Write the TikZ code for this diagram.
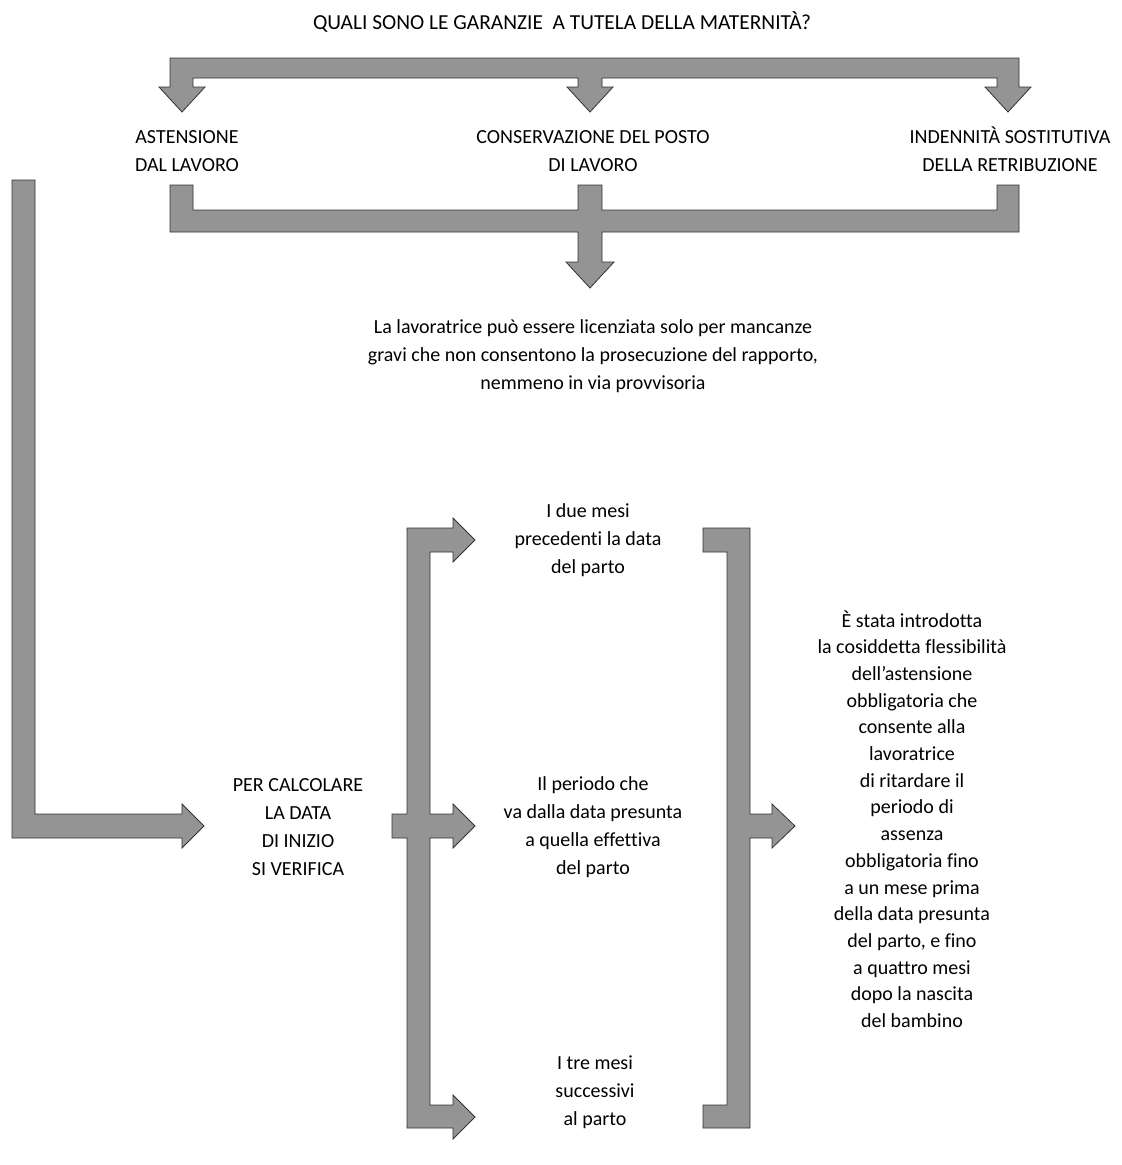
\documentclass[tikz,border=0pt]{standalone}
\usepackage{fontspec}
\setmainfont{Carlito}[Ligatures=NoCommon]
\begin{document}
\begin{tikzpicture}[x=1pt,y=-1pt,
  txt/.style={align=center,font=\fontsize{20}{28}\selectfont,inner sep=0pt},
  flx/.style={align=center,font=\fontsize{20}{26.7}\selectfont,inner sep=0pt},
  blk/.style={fill=black!42,draw=black!80,line width=0.8pt,line join=miter}]
\useasboundingbox[fill=white] (0,0) rectangle (1122,1165);

% texts
\node[txt,font=\fontsize{21.4}{28}\selectfont] (title) at (562,22) {QUALI SONO LE GARANZIE\ \ A TUTELA DELLA MATERNIT\`A?};
\node[txt] (ast) at (187,151) {ASTENSIONE\\DAL LAVORO};
\node[txt] (cons) at (593,151) {CONSERVAZIONE DEL POSTO\\DI LAVORO};
\node[txt] (ind) at (1010,149) {INDENNIT\`A SOSTITUTIVA\\DELLA RETRIBUZIONE};
\node[txt] (lic) at (593,356) {La lavoratrice pu\`o essere licenziata solo per mancanze\\gravi che non consentono la prosecuzione del rapporto,\\nemmeno in via provvisoria};
\node[txt] (calc) at (298,827) {PER CALCOLARE\\LA DATA\\DI INIZIO\\SI VERIFICA};
\node[txt] (due) at (588,540) {I due mesi\\precedenti la data\\del parto};
\node[txt] (per) at (593,827) {Il periodo che\\va dalla data presunta\\a quella effettiva\\del parto};
\node[txt] (tre) at (595,1092) {I tre mesi\\successivi\\al parto};
\node[flx] (flex) at (912,819) {\`E stata introdotta\\la cosiddetta flessibilit\`a\\dell’astensione\\obbligatoria che\\consente alla\\lavoratrice\\di ritardare il\\periodo di\\assenza\\obbligatoria fino\\a un mese prima\\della data presunta\\del parto, e fino\\a quattro mesi\\dopo la nascita\\del bambino};

% top distributor bar with three arrows
\draw[blk] (170,58) -- (1019,58) -- (1019,87) -- (1031,87) -- (1008,112) -- (985,87) -- (997,87) -- (997,78)
  -- (602,78) -- (602,87) -- (613,87) -- (590,112) -- (567,87) -- (578,87) -- (578,78)
  -- (193,78) -- (193,87) -- (205,87) -- (182,112) -- (159,87) -- (170,87) -- cycle;

% collector bar with arrow down
\draw[blk] (170,185) -- (193,185) -- (193,210) -- (578,210) -- (578,185) -- (602,185) -- (602,210)
  -- (997,210) -- (997,185) -- (1019,185) -- (1019,232) -- (602,232) -- (602,262) -- (614,262)
  -- (590,288) -- (566,262) -- (578,262) -- (578,232) -- (170,232) -- cycle;

% left L arrow
\draw[blk] (12,180) -- (35,180) -- (35,814) -- (182,814) -- (182,804) -- (204,826) -- (182,848)
  -- (182,838) -- (12,838) -- cycle;

% left bracket with three arrows
\draw[blk] (407,528) -- (453,528) -- (453,518) -- (475,540) -- (453,562) -- (453,552) -- (430,552)
  -- (430,814) -- (453,814) -- (453,804) -- (475,826) -- (453,848) -- (453,838) -- (430,838)
  -- (430,1105) -- (453,1105) -- (453,1095) -- (475,1117) -- (453,1139) -- (453,1128)
  -- (407,1128) -- (407,838) -- (392,838) -- (392,814) -- (407,814) -- cycle;

% right bracket with arrow
\draw[blk] (703,528) -- (750,528) -- (750,814) -- (772,814) -- (772,804) -- (795,826) -- (772,848)
  -- (772,838) -- (750,838) -- (750,1128) -- (703,1128) -- (703,1105) -- (727,1105) -- (727,552)
  -- (703,552) -- cycle;
\end{tikzpicture}
\end{document}
